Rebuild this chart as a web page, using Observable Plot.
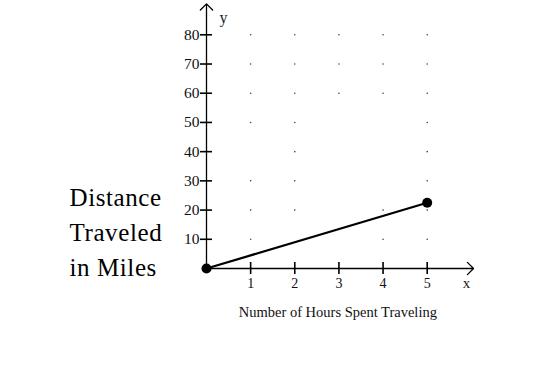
<!DOCTYPE html>
<html>
<head>
<meta charset="utf-8">
<script src="https://cdn.jsdelivr.net/npm/d3@7"></script>
<script src="https://cdn.jsdelivr.net/npm/@observablehq/plot@0.6"></script>
<style>
  html, body { margin: 0; padding: 0; background: #fff; }
  #chart svg { display: block; }
  #chart svg text { font-family: 'Liberation Serif', 'Times New Roman', serif; }
  #chart svg .ytitle text { letter-spacing: 0.6px; }
</style>
</head>
<body>
<div id="chart"></div>
<script>
// Data
const hours = [0, 5];
const miles = [0, 22.5];
const xTicks = [1, 2, 3, 4, 5];
const yTicks = [10, 20, 30, 40, 50, 60, 70, 80];
// grid dots visible in the picture (x, y)
const dotX = [1,2,3,4,5, 1,2,3,4,5, 1,2,3,4,5, 1,2,5, 2,5, 1,2,5, 1,2,4,5, 1,4,5];
const dotY = [80,80,80,80,80, 70,70,70,70,70, 60,60,60,60,60, 50,50,50, 40,40, 30,30,30, 20,20,20,20, 10,10,10];
const axisEndX = 6.05;
const axisEndY = 90.6;
const xTitle = "Number of Hours Spent Traveling";
const yTitle = "Distance\nTraveled\nin Miles";

const series = hours.map((h, i) => ({hours: h, miles: miles[i]}));
const grid = dotX.map((x, i) => ({x, y: dotY[i]}));

const serif = "'Liberation Serif', 'Times New Roman', serif";

const chart = Plot.plot({
  width: 546,
  height: 367,
  marginLeft: 206,
  marginRight: 119.3,
  marginTop: 34.3,
  marginBottom: 99,
  style: {fontFamily: serif, background: "#fff", overflow: "visible"},
  x: {domain: [0, 5]},
  y: {domain: [0, 80]},
  marks: [
    Plot.dot(grid, {x: "x", y: "y", r: 0.8, fill: "#444", stroke: "none"}),
    // axes with arrowheads
    Plot.arrow([0], {x1: 0, y1: 0, x2: axisEndX, y2: 0, stroke: "#000", strokeWidth: 1.3, headAngle: 90, headLength: 10, bend: 0}),
    Plot.arrow([0], {x1: 0, y1: 0, x2: 0, y2: axisEndY, stroke: "#000", strokeWidth: 1.3, headAngle: 90, headLength: 10, bend: 0}),
    // crossing tick marks
    Plot.axisX({ticks: xTicks, tickSize: 12, dy: -6, text: null, stroke: "#000", strokeWidth: 1.6}),
    Plot.axisY({ticks: yTicks, tickSize: 12, dx: 6, text: null, stroke: "#000", strokeWidth: 1.6}),
    // tick labels
    Plot.axisX({ticks: xTicks, tickFormat: d3.format("d"), tickSize: 0, tickPadding: 10, label: null, fontSize: 14, fill: "#111", stroke: "#111", strokeWidth: 0.25, fontFamily: serif}),
    Plot.axisY({ticks: yTicks, tickFormat: d3.format("d"), tickSize: 0, tickPadding: 7, label: null, fontSize: 15.5, fill: "#111", stroke: "#111", strokeWidth: 0.35, fontFamily: serif}),
    // axis letters
    Plot.text(["y"], {frameAnchor: "top-left", dx: 13, dy: -12, lineAnchor: "bottom", fontSize: 16, fill: "#1a1a1a", fontFamily: serif}),
    Plot.text(["x"], {frameAnchor: "bottom-right", dx: 43, dy: 19, lineAnchor: "bottom", fontSize: 15, fill: "#1a1a1a", fontFamily: serif}),
    // data
    Plot.line(series, {x: "hours", y: "miles", stroke: "#000", strokeWidth: 2.2}),
    Plot.dot(series, {x: "hours", y: "miles", r: 5, fill: "#000"}),
    // titles
    Plot.text([xTitle], {frameAnchor: "bottom", dx: 21, dy: 48, lineAnchor: "bottom", fontSize: 14.5, fill: "#111", fontFamily: serif}),
    Plot.text([yTitle], {frameAnchor: "bottom-left", dx: -137, dy: 7, textAnchor: "start", lineAnchor: "bottom", lineHeight: 1.4, fontSize: 25, fill: "#000", fontFamily: serif, className: "ytitle"})
  ]
});
document.getElementById("chart").appendChild(chart);
</script>
</body>
</html>
